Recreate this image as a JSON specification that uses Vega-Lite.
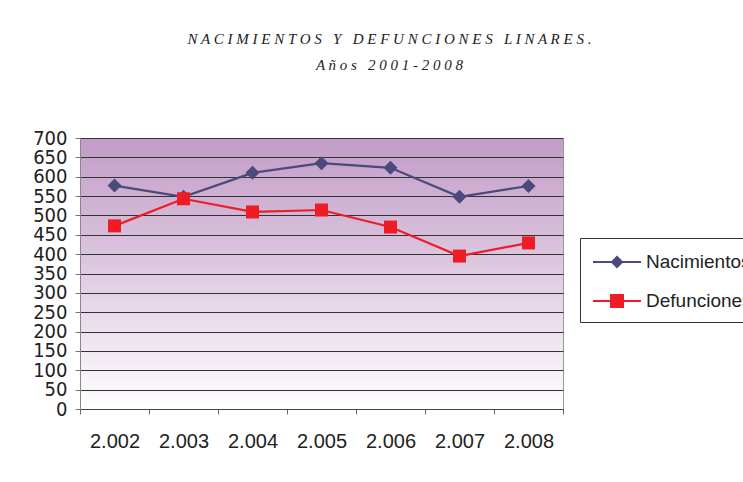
{
  "$schema": "https://vega.github.io/schema/vega-lite/v6.json",
  "width": 483,
  "height": 271,
  "autosize": {"type": "none"},
  "padding": {"left": 80, "top": 138, "right": 180, "bottom": 73},
  "background": "#ffffff",
  "title": {
    "text": "N A C I M I E N T O S \u00a0 Y \u00a0 D E F U N C I O N E S \u00a0 L I N A R E S .",
    "subtitle": "A ñ o s \u00a0 2 0 0 1 - 2 0 0 8",
    "anchor": "middle",
    "dx": 68,
    "offset": 55,
    "font": "Liberation Serif",
    "fontStyle": "italic",
    "fontSize": 15,
    "fontWeight": "normal",
    "color": "#222222",
    "subtitleFont": "Liberation Serif",
    "subtitleFontStyle": "italic",
    "subtitleFontSize": 15,
    "subtitleColor": "#222222",
    "subtitlePadding": 11
  },
  "data": {
    "values": [
      {"year": "2.002", "serie": "Nacimientos", "value": 577},
      {"year": "2.003", "serie": "Nacimientos", "value": 548},
      {"year": "2.004", "serie": "Nacimientos", "value": 610},
      {"year": "2.005", "serie": "Nacimientos", "value": 635},
      {"year": "2.006", "serie": "Nacimientos", "value": 623},
      {"year": "2.007", "serie": "Nacimientos", "value": 548},
      {"year": "2.008", "serie": "Nacimientos", "value": 576},
      {"year": "2.002", "serie": "Defunciones", "value": 473},
      {"year": "2.003", "serie": "Defunciones", "value": 543},
      {"year": "2.004", "serie": "Defunciones", "value": 509},
      {"year": "2.005", "serie": "Defunciones", "value": 514},
      {"year": "2.006", "serie": "Defunciones", "value": 470},
      {"year": "2.007", "serie": "Defunciones", "value": 395},
      {"year": "2.008", "serie": "Defunciones", "value": 429}
    ]
  },
  "encoding": {
    "x": {
      "field": "year",
      "type": "nominal",
      "sort": null,
      "scale": {"paddingInner": 0, "paddingOuter": 0},
      "axis": {
        "title": null,
        "labelAngle": 0,
        "tickBand": "extent",
        "labelFont": "Liberation Sans",
        "labelFontSize": 20,
        "labelColor": "#222222",
        "labelPadding": 17,
        "tickSize": 5,
        "tickColor": "#666666",
        "domainColor": "#444444",
        "grid": false
      }
    },
    "y": {
      "field": "value",
      "type": "quantitative",
      "scale": {"domain": [0, 700], "nice": false},
      "axis": {
        "title": null,
        "values": [0, 50, 100, 150, 200, 250, 300, 350, 400, 450, 500, 550, 600, 650, 700],
        "labelOverlap": false,
        "labelFont": "DejaVu Sans Condensed, Liberation Sans Narrow, Roboto Condensed, Liberation Sans",
        "labelFontSize": 20,
        "labelColor": "#222222",
        "labelPadding": 8,
        "tickSize": 5,
        "tickColor": "#777777",
        "domainColor": "#888888",
        "grid": true,
        "gridColor": "#333333",
        "gridWidth": 1,
        "gridOpacity": 1
      }
    },
    "color": {
      "field": "serie",
      "type": "nominal",
      "scale": {"domain": ["Nacimientos", "Defunciones"], "range": ["#4b4a7b", "#ee1d25"]},
      "legend": {
        "title": null,
        "orient": "none",
        "legendX": 500,
        "legendY": 100,
        "strokeColor": "#333333",
        "fillColor": "#ffffff",
        "padding": 11,
        "symbolSize": 576,
        "symbolOffset": 13,
        "symbolStrokeWidth": 2,
        "labelOffset": 16,
        "rowPadding": 16,
        "labelFont": "Liberation Sans",
        "labelFontSize": 19,
        "labelColor": "#222222",
        "labelLimit": 300,
        "encode": {
          "symbols": {
            "update": {
              "shape": {"signal": "datum.value === 'Nacimientos' ? 'M-2,0L2,0M-0.42,0L0,-0.42L0.42,0L0,0.42Z' : 'M-2,0L2,0M-0.5,-0.5L0.5,-0.5L0.5,0.5L-0.5,0.5Z'"},
              "fill": {"signal": "datum.value === 'Nacimientos' ? '#4b4a7b' : '#ee1d25'"},
              "stroke": {"signal": "datum.value === 'Nacimientos' ? '#4b4a7b' : '#ee1d25'"},
              "strokeWidth": {"value": 2},
              "strokeOpacity": {"value": 1},
              "opacity": {"value": 1},
              "fillOpacity": {"value": 1}
            }
          }
        }
      }
    }
  },
  "layer": [
    {
      "mark": {"type": "line", "strokeWidth": 2.2}
    },
    {
      "transform": [{"filter": "datum.serie === 'Nacimientos'"}],
      "mark": {"type": "point", "filled": true, "opacity": 1, "shape": "diamond", "size": 196}
    },
    {
      "transform": [{"filter": "datum.serie === 'Defunciones'"}],
      "mark": {"type": "point", "filled": true, "opacity": 1, "shape": "square", "size": 169}
    }
  ],
  "config": {
    "view": {
      "stroke": "#999999",
      "fill": {
        "gradient": "linear",
        "x1": 0, "y1": 0, "x2": 0, "y2": 1,
        "stops": [
          {"offset": 0, "color": "#c29cc7"},
          {"offset": 0.5, "color": "#dfcbe2"},
          {"offset": 1, "color": "#ffffff"}
        ]
      }
    }
  }
}
